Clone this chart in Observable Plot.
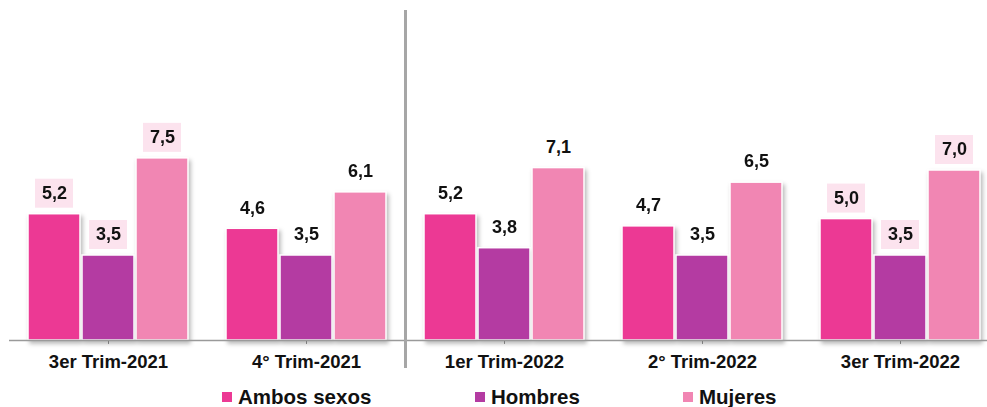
<!DOCTYPE html>
<html>
<head>
<meta charset="utf-8">
<script src="https://cdn.jsdelivr.net/npm/d3@7"></script>
<script src="https://cdn.jsdelivr.net/npm/@observablehq/plot@0.6"></script>
<style>
  html, body { margin: 0; padding: 0; background: #fff; overflow: hidden; width: 987px; height: 407px; }
  #wrap { position: relative; width: 987px; height: 407px; font-family: "Liberation Sans", Arial, sans-serif; }
  #chart svg { display: block; max-width: none; }
  .legend-item { position: absolute; top: 386px; display: flex; align-items: center; font-weight: bold; font-size: 20.5px; color: #111; line-height: 22px; }
  .legend-item span.sw { display: inline-block; width: 10px; height: 10px; margin-right: 6px; }
</style>
</head>
<body>
<div id="wrap">
  <div id="chart"></div>
  <div id="legend"></div>
</div>
<script>
const quarters = ["3er Trim-2021", "4° Trim-2021", "1er Trim-2022", "2° Trim-2022", "3er Trim-2022"];
const series = ["Ambos sexos", "Hombres", "Mujeres"];
const ambos = [5.2, 4.6, 5.2, 4.7, 5.0];
const hombres = [3.5, 3.5, 3.8, 3.5, 3.5];
const mujeres = [7.5, 6.1, 7.1, 6.5, 7.0];
const highlighted = ["3er Trim-2021", "3er Trim-2022"];
const colors = ["#ec3994", "#b43ba2", "#f186b3"];
const separatorBetween = ["4° Trim-2021", "1er Trim-2022"];

const valuesBySeries = [ambos, hombres, mujeres];
const rows = [];
quarters.forEach((q, i) => {
  series.forEach((s, j) => rows.push({quarter: q, series: s, value: valuesBySeries[j][i]}));
});

// legend (built first so it always shows)
const legendLeft = [222, 475, 683];
const legend = d3.select("#legend");
series.forEach((s, i) => {
  const item = legend.append("div").attr("class", "legend-item").style("left", legendLeft[i] + "px");
  item.append("span").attr("class", "sw").style("background", colors[i]);
  item.append("span").text(s);
});

const chart = Plot.plot({
  width: 999,
  height: 375,
  marginLeft: 9,
  marginRight: 0,
  marginTop: 0,
  marginBottom: 35,
  style: {fontFamily: "'Liberation Sans', Arial, sans-serif", color: "#111", background: "transparent", overflow: "visible"},
  facet: {data: rows, x: "quarter"},
  fx: {domain: quarters, padding: 0, label: null, axis: "bottom", tickSize: 4, tickPadding: 10},
  x: {domain: series, paddingInner: 0.04, paddingOuter: 0.33, axis: null},
  y: {domain: [0, 14], axis: null},
  color: {domain: series, range: colors},
  marks: [
    Plot.barY(rows, {x: "series", y: "value", fill: "series", stroke: "white", strokeWidth: 1.5}),
    Plot.barY(rows, {
      filter: d => highlighted.includes(d.quarter),
      x: "series", y1: "value", y2: "value",
      insetTop: -35, insetBottom: 6, insetLeft: 7, insetRight: 7,
      fill: "#fce3ee"
    }),
    Plot.text(rows, {
      x: "series", y: "value", dy: -21,
      text: d => d.value.toFixed(1).replace(".", ","),
      fontWeight: "bold", fontSize: 18, fill: "#111", lineAnchor: "middle"
    }),
    Plot.ruleY([0], {stroke: "#9a9a9a", strokeWidth: 1.5})
  ]
});

document.getElementById("chart").appendChild(chart);
const svg = d3.select(chart);

// style fx axis labels
const axisTexts = svg.selectAll("g[aria-label^='fx-axis'] text");
axisTexts.style("font-size", "18.5px").style("font-weight", "bold").attr("fill", "#111");
svg.selectAll("g[aria-label^='fx-axis'] path, g[aria-label^='fx-axis'] line").attr("stroke", "#9a9a9a");

// drop shadow on bars
svg.selectAll("g[aria-label='bar']").filter((d, i) => i === 0)
  .style("filter", "drop-shadow(2px 3px 2px rgba(0,0,0,0.28))");

// vertical separator midway between the two quarter labels (positions placed by Plot's fx scale)
const svgBox = chart.getBoundingClientRect();
const centers = {};
axisTexts.each(function () {
  const b = this.getBoundingClientRect();
  centers[this.textContent] = b.left + b.width / 2 - svgBox.left;
});
const a = centers[separatorBetween[0]], b = centers[separatorBetween[1]];
if (a != null && b != null) {
  const sx = (a + b) / 2;
  svg.append("line")
    .attr("x1", sx).attr("x2", sx).attr("y1", 10).attr("y2", 368)
    .attr("stroke", "#a6a6a6").attr("stroke-width", 3);
}
</script>
</body>
</html>
